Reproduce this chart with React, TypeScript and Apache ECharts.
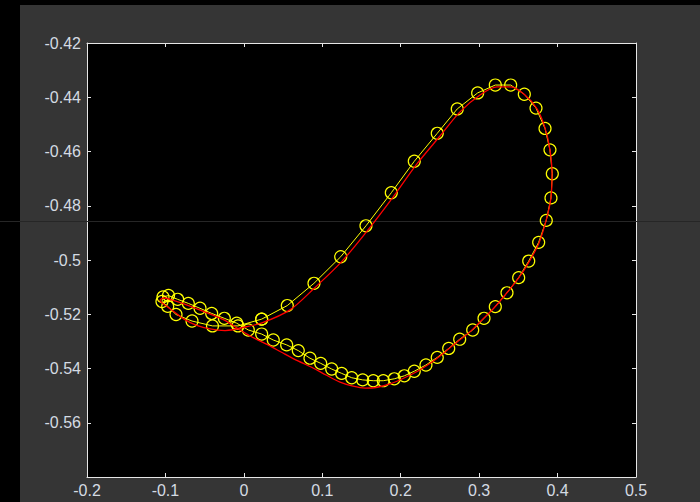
import React, { useEffect, useRef } from "react";
import * as echarts from "echarts";

// Yellow trajectory (markers + straight segments)
const yellowX = [0.0227, 0.0554, 0.0894, 0.1235, 0.1557, 0.188, 0.2173, 0.2466, 0.2721, 0.2981, 0.3206, 0.3402, 0.3576, 0.3725, 0.384, 0.3903, 0.3933, 0.3916, 0.3856, 0.3759, 0.3632, 0.3504, 0.3355, 0.3206, 0.3062, 0.2918, 0.2752, 0.2612, 0.2466, 0.2322, 0.2173, 0.2046, 0.1918, 0.1778, 0.165, 0.1515, 0.1375, 0.1247, 0.112, 0.098, 0.0843, 0.0694, 0.0546, 0.0375, 0.0227, 0.0057, -0.0091, -0.0249, -0.041, -0.0559, -0.0708, -0.0844, -0.0961, -0.1031, -0.1044, -0.0971, -0.0865, -0.0661, -0.04, -0.0075, 0.0227];
const yellowY = [-0.5218, -0.5168, -0.5086, -0.4988, -0.4874, -0.4752, -0.4636, -0.4533, -0.4443, -0.4384, -0.4355, -0.4355, -0.4389, -0.444, -0.4515, -0.4594, -0.4682, -0.4771, -0.4854, -0.4935, -0.5004, -0.5065, -0.5121, -0.5172, -0.5215, -0.5258, -0.5292, -0.5326, -0.5359, -0.5387, -0.541, -0.5427, -0.5438, -0.5445, -0.5445, -0.5442, -0.5434, -0.5418, -0.5402, -0.5381, -0.5362, -0.5334, -0.5313, -0.5295, -0.5273, -0.5258, -0.5233, -0.5215, -0.5197, -0.5178, -0.516, -0.5145, -0.5131, -0.5136, -0.5153, -0.5171, -0.5201, -0.5225, -0.5243, -0.5243, -0.5218];

// Red smooth curve
const redX = [0.0015, 0.0231, 0.0588, 0.0894, 0.1247, 0.1583, 0.1902, 0.2195, 0.2501, 0.2756, 0.3011, 0.3228, 0.3406, 0.3585, 0.3738, 0.384, 0.3903, 0.3929, 0.3916, 0.3852, 0.3763, 0.3636, 0.3495, 0.3342, 0.3189, 0.3036, 0.2883, 0.2718, 0.2565, 0.2399, 0.222, 0.2042, 0.1863, 0.1685, 0.1545, 0.1392, 0.1226, 0.1047, 0.0882, 0.069, 0.0499, 0.0308, 0.0104, -0.0049, -0.0253, -0.0495, -0.0687, -0.0878, -0.1018, -0.1069, -0.1005, -0.0903, -0.0763, -0.061, -0.0432, -0.024, 0.0015];
const redY = [-0.5247, -0.5232, -0.5184, -0.5105, -0.5006, -0.4889, -0.4768, -0.465, -0.4543, -0.4454, -0.4392, -0.4362, -0.4362, -0.4392, -0.4443, -0.4513, -0.4594, -0.4683, -0.4771, -0.4856, -0.4937, -0.5007, -0.507, -0.5125, -0.5177, -0.5221, -0.5265, -0.5302, -0.5339, -0.5376, -0.5409, -0.5435, -0.5457, -0.547, -0.5472, -0.5465, -0.545, -0.5424, -0.5398, -0.5372, -0.5343, -0.5313, -0.5284, -0.5258, -0.5221, -0.5192, -0.517, -0.5151, -0.514, -0.5149, -0.5166, -0.5188, -0.5218, -0.524, -0.5254, -0.526, -0.5247];

const xMin = -0.2, xMax = 0.5, xStep = 0.1;
const yMin = -0.58, yMax = -0.42, yStep = 0.02;

const FONT = '"Liberation Sans", Arial, sans-serif';
const LABEL_COLOR = "#d4dbe3";
const AXIS_COLOR = "#e6e6e6";

export default function App() {
  const ref = useRef<HTMLDivElement>(null);
  useEffect(() => {
    if (!ref.current) return;
    const chart = echarts.init(ref.current, null, { renderer: "svg" });
    const yellowData = yellowX.map((x, i) => [x, yellowY[i]]);
    const redData = redX.map((x, i) => [x, redY[i]]);
    const axisCommon = {
      type: "value" as const,
      axisLine: { show: true, onZero: false, lineStyle: { color: AXIS_COLOR, width: 1 } },
      axisTick: { show: true, inside: true, length: 4, lineStyle: { color: AXIS_COLOR } },
      splitLine: { show: false },
    };
    chart.setOption({
      animation: false,
      backgroundColor: "#353535",
      graphic: {
        elements: [
          { type: "rect", left: 0, top: 0, shape: { width: 700, height: 5 }, style: { fill: "#000" } },
          { type: "rect", left: 0, top: 0, shape: { width: 20, height: 502 }, style: { fill: "#000" } },
          { type: "line", z: 1, shape: { x1: 0, y1: 221.5, x2: 700, y2: 221.5 }, style: { stroke: "#262626", lineWidth: 1 } },
        ],
      },
      grid: {
        left: 87,
        top: 43,
        right: 64,
        bottom: 25,
        show: true,
        backgroundColor: "#000",
        borderWidth: 0,
      },
      xAxis: [
        {
          ...axisCommon,
          position: "bottom",
          min: xMin,
          max: xMax,
          interval: xStep,
          axisLabel: { color: LABEL_COLOR, fontSize: 16, fontFamily: FONT, margin: 5 },
        },
        {
          ...axisCommon,
          position: "top",
          min: xMin,
          max: xMax,
          interval: xStep,
          axisLabel: { show: false },
        },
      ],
      yAxis: [
        {
          ...axisCommon,
          position: "left",
          min: yMin,
          max: yMax,
          interval: yStep,
          axisLabel: { color: LABEL_COLOR, fontSize: 16, fontFamily: FONT, margin: 6, showMinLabel: false },
        },
        {
          ...axisCommon,
          position: "right",
          min: yMin,
          max: yMax,
          interval: yStep,
          axisLabel: { show: false },
        },
      ],
      series: [
        {
          type: "line",
          xAxisIndex: 0,
          yAxisIndex: 0,
          data: yellowData,
          smooth: false,
          symbol: "circle",
          symbolSize: 12,
          showAllSymbol: true,
          lineStyle: { color: "#ffff00", width: 1 },
          itemStyle: { color: "transparent", borderColor: "#ffff00", borderWidth: 1.2 },
          z: 3,
        },
        {
          type: "line",
          xAxisIndex: 0,
          yAxisIndex: 0,
          data: redData,
          smooth: 0.3,
          symbol: "none",
          lineStyle: { color: "#ff0000", width: 1.3 },
          z: 4,
        },
      ],
    });
    return () => chart.dispose();
  }, []);
  return (
    <div
      ref={ref}
      style={{ position: "fixed", left: 0, top: 0, width: 700, height: 502 }}
    />
  );
}
